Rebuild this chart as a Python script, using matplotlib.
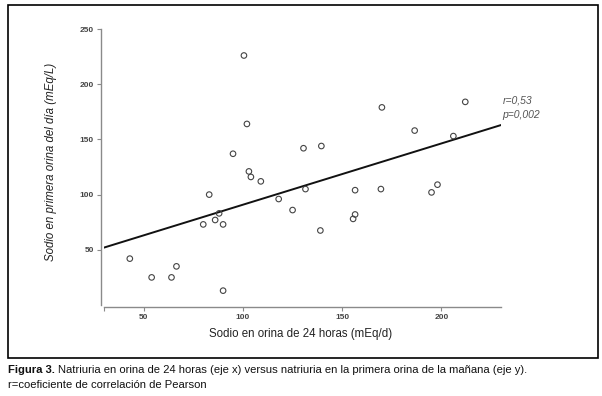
import matplotlib
matplotlib.use("Agg")
import matplotlib.pyplot as plt
from matplotlib.patches import Rectangle

plt.rcParams["font.family"] = ["Liberation Sans", "DejaVu Sans"]

# ---- data ----
sodio_24h = [43, 54, 64, 66.5, 90, 80, 83, 86, 88, 90, 95, 100.5, 102, 103, 104,
             109, 118, 125, 130.5, 131.5, 139.5, 139, 155.5, 156.5, 156.5, 170,
             169.5, 186.5, 195, 198, 206, 212]
sodio_primera = [42, 25, 25, 35, 13, 73, 100, 77, 83, 73, 137, 226, 164, 121, 116,
                 112, 96, 86, 142, 105, 144, 67.5, 78, 82, 104, 179,
                 105, 158, 102, 109, 153, 184]
reg_x = [30, 230]
reg_y = [52, 163]
x_ticks = [50, 100, 150, 200]
x_ticklabels = ["50", "100", "150", "200"]
y_ticks = [50, 100, 150, 200, 250]
y_ticklabels = ["50", "100", "150", "200", "250"]
stats_text = ["r=0,53", "p=0,002"]

W, H = 602, 396
fig = plt.figure(figsize=(W / 100, H / 100), dpi=100)
fig.patch.set_facecolor("white")

def fx(px):
    return px / W

def fy(py):
    return 1 - py / H

# outer frame
fig.patches.append(Rectangle((fx(8), fy(358)), fx(598) - fx(8), fy(5) - fy(358),
                             transform=fig.transFigure, fill=False,
                             edgecolor="black", linewidth=1.2))

ax = fig.add_axes([fx(104), fy(305), fx(501) - fx(104), fy(29) - fy(305)])
ax.set_xlim(30, 230)
ax.set_ylim(0, 250)
ax.patch.set_alpha(0)

for s in ["top", "right"]:
    ax.spines[s].set_visible(False)
ax.spines["left"].set_position(("outward", 2.2))
ax.spines["bottom"].set_position(("outward", 1.5))
ax.spines["left"].set_bounds(0, 250)
ax.spines["bottom"].set_bounds(30, 230)
for s in ["left", "bottom"]:
    ax.spines[s].set_color("#8a8a8a")
    ax.spines[s].set_linewidth(1.0)

ax.set_xticks(x_ticks)
ax.set_xticklabels(x_ticklabels)
ax.set_xticks([30], minor=True)
ax.set_yticks(y_ticks)
ax.set_yticklabels(y_ticklabels)
ax.tick_params(axis="both", which="both", direction="out", length=3, width=0.8,
               color="#8a8a8a", labelsize=6, labelcolor="#444444", pad=2)
for lab in ax.get_xticklabels() + ax.get_yticklabels():
    lab.set_fontweight("bold")

ax.scatter(sodio_24h, sodio_primera, s=16, facecolors="none",
           edgecolors="#444444", linewidths=0.8, zorder=3)
ax.plot(reg_x, reg_y, color="#111111", linewidth=1.4, zorder=2)

ax.text(231, 185, stats_text[0], fontsize=7.5, style="italic", color="#555555",
        ha="left", va="center")
ax.text(230.5, 172, stats_text[1], fontsize=7.5, style="italic", color="#555555",
        ha="left", va="center")

fig.text(fx(301), fy(334), "Sodio en orina de 24 horas (mEq/d)", fontsize=8.3,
         color="#222222", ha="center", va="center")
fig.text(fx(51), fy(162), "Sodio en primera orina del día (mEq/L)", fontsize=8.3,
         style="italic", color="#222222", ha="center", va="center", rotation=90)

t1 = fig.text(fx(8), fy(370), "Figura 3.", fontsize=8.1, fontweight="bold",
              color="#111111", ha="left", va="center")
fig.canvas.draw()
bb = t1.get_window_extent()
fig.text((bb.x1 + 3) / W, fy(370),
         "Natriuria en orina de 24 horas (eje x) versus natriuria en la primera orina de la mañana (eje y).",
         fontsize=8.1, color="#111111", ha="left", va="center")
fig.text(fx(8), fy(385), "r=coeficiente de correlación de Pearson", fontsize=8.1,
         color="#111111", ha="left", va="center")

fig.savefig("out.png", dpi=100)
